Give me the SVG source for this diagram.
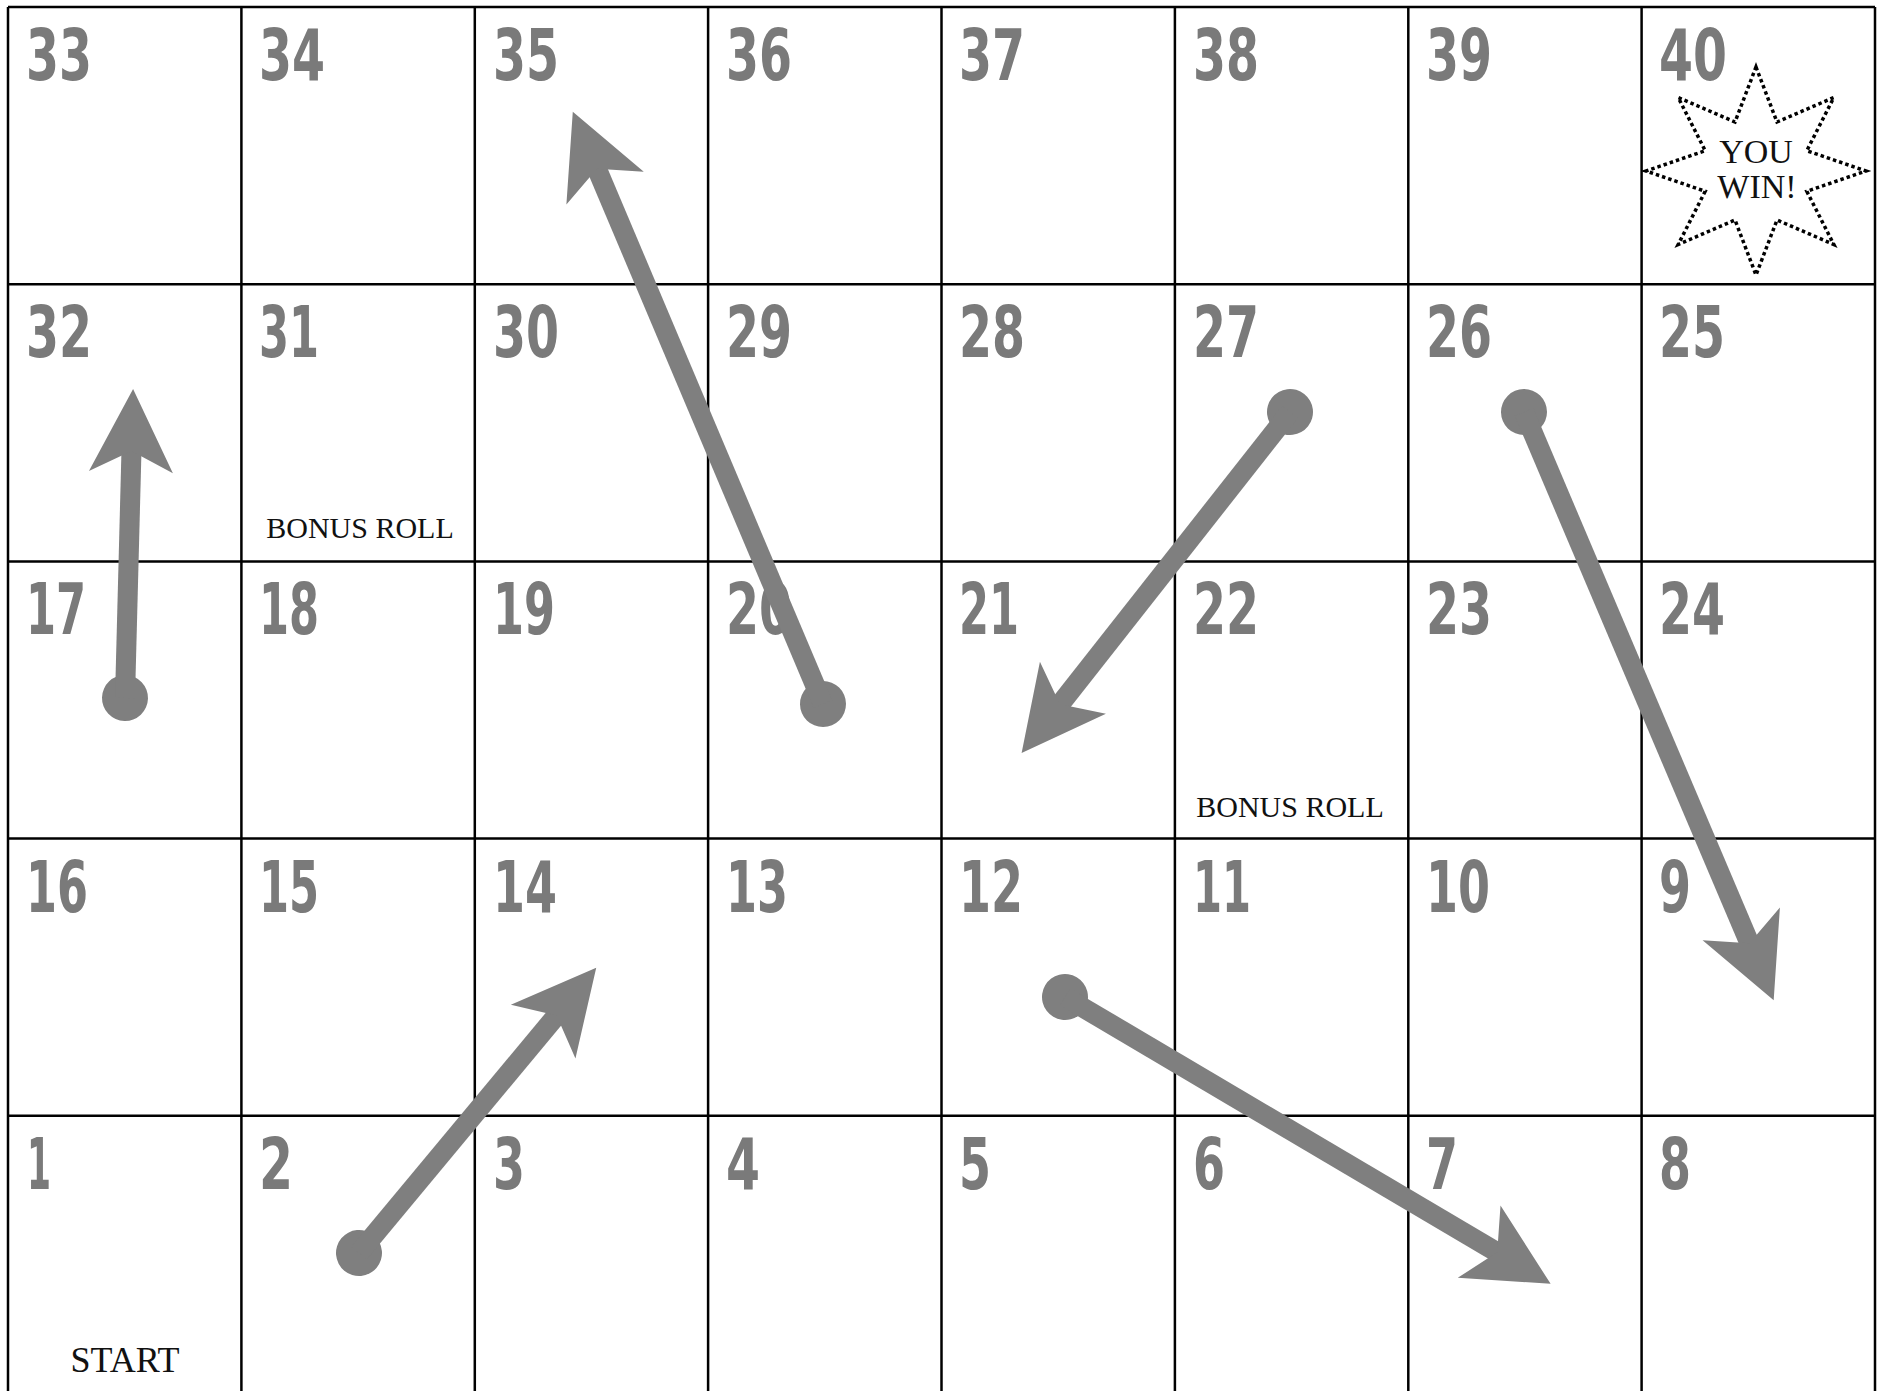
<svg xmlns="http://www.w3.org/2000/svg" xmlns:xlink="http://www.w3.org/1999/xlink" width="1883" height="1391" viewBox="0 0 1883 1391">
<style>
.num{font-family:"DejaVu Sans Condensed","DejaVu Sans","Liberation Sans",sans-serif;font-weight:bold;font-size:72px;fill:#7a7a7a}
.lbl{font-family:"Liberation Serif","DejaVu Serif",serif;fill:#111}
.grid line{stroke:#000;stroke-width:2.5}
.arrow{fill:#7f7f7f;stroke:none}
.shaft{stroke:#7f7f7f;stroke-width:20}
.star{fill:none;stroke:#000;stroke-width:3.5;stroke-dasharray:3.5 3}
</style>
<defs>
<path id="head" d="M0,0 L-83,-42 L-62,0 L-83,42 Z"/>
</defs>
<rect width="1883" height="1391" fill="#fff"/>
<g class="grid" id="grid">
<line x1="8" y1="7" x2="1875" y2="7"/>
<line x1="8" y1="284.2" x2="1875" y2="284.2"/>
<line x1="8" y1="561.4" x2="1875" y2="561.4"/>
<line x1="8" y1="838.6" x2="1875" y2="838.6"/>
<line x1="8" y1="1115.8" x2="1875" y2="1115.8"/>
<line x1="8" y1="7" x2="8" y2="1391"/>
<line x1="241.4" y1="7" x2="241.4" y2="1391"/>
<line x1="474.8" y1="7" x2="474.8" y2="1391"/>
<line x1="708.1" y1="7" x2="708.1" y2="1391"/>
<line x1="941.5" y1="7" x2="941.5" y2="1391"/>
<line x1="1174.9" y1="7" x2="1174.9" y2="1391"/>
<line x1="1408.3" y1="7" x2="1408.3" y2="1391"/>
<line x1="1641.6" y1="7" x2="1641.6" y2="1391"/>
<line x1="1875" y1="7" x2="1875" y2="1391"/>
</g>
<g id="row1">
<g id="c33"><text class="num" x="26" y="80" textLength="66" lengthAdjust="spacingAndGlyphs">33</text></g>
<g id="c34"><text class="num" x="259" y="80" textLength="66" lengthAdjust="spacingAndGlyphs">34</text></g>
<g id="c35"><text class="num" x="493" y="80" textLength="66" lengthAdjust="spacingAndGlyphs">35</text></g>
<g id="c36"><text class="num" x="726" y="80" textLength="66" lengthAdjust="spacingAndGlyphs">36</text></g>
<g id="c37"><text class="num" x="959" y="80" textLength="66" lengthAdjust="spacingAndGlyphs">37</text></g>
<g id="c38"><text class="num" x="1193" y="80" textLength="66" lengthAdjust="spacingAndGlyphs">38</text></g>
<g id="c39"><text class="num" x="1426" y="80" textLength="66" lengthAdjust="spacingAndGlyphs">39</text></g>
<g id="c40"><text class="num" x="1659" y="80" textLength="68" lengthAdjust="spacingAndGlyphs">40</text>
<polygon class="star" points="1756,67 1777,122 1833.8,97.5 1806.8,150.7 1866,171 1806.8,191.3 1833.8,244.5 1777,220 1756,275 1735,220 1678.2,244.5 1705.2,191.3 1646,171 1705.2,150.7 1678.2,97.5 1735,122"/>
<text class="lbl" x="1756" y="163" font-size="34" text-anchor="middle">YOU</text>
<text class="lbl" x="1757" y="198" font-size="34" text-anchor="middle">WIN!</text>
</g>
</g>
<g id="row2">
<g id="c32"><text class="num" x="26" y="357" textLength="66" lengthAdjust="spacingAndGlyphs">32</text></g>
<g id="c31"><text class="num" x="259" y="357" textLength="60" lengthAdjust="spacingAndGlyphs">31</text>
<text class="lbl" x="360" y="538" font-size="30" text-anchor="middle">BONUS ROLL</text></g>
<g id="c30"><text class="num" x="493" y="357" textLength="66" lengthAdjust="spacingAndGlyphs">30</text></g>
<g id="c29"><text class="num" x="726" y="357" textLength="66" lengthAdjust="spacingAndGlyphs">29</text></g>
<g id="c28"><text class="num" x="959" y="357" textLength="66" lengthAdjust="spacingAndGlyphs">28</text></g>
<g id="c27"><text class="num" x="1193" y="357" textLength="66" lengthAdjust="spacingAndGlyphs">27</text></g>
<g id="c26"><text class="num" x="1426" y="357" textLength="66" lengthAdjust="spacingAndGlyphs">26</text></g>
<g id="c25"><text class="num" x="1659" y="357" textLength="66" lengthAdjust="spacingAndGlyphs">25</text></g>
</g>
<g id="row3">
<g id="c17"><text class="num" x="26" y="634" textLength="60" lengthAdjust="spacingAndGlyphs">17</text></g>
<g id="c18"><text class="num" x="259" y="634" textLength="60" lengthAdjust="spacingAndGlyphs">18</text></g>
<g id="c19"><text class="num" x="493" y="634" textLength="62" lengthAdjust="spacingAndGlyphs">19</text></g>
<g id="c20"><text class="num" x="726" y="634" textLength="66" lengthAdjust="spacingAndGlyphs">20</text></g>
<g id="c21"><text class="num" x="959" y="634" textLength="60" lengthAdjust="spacingAndGlyphs">21</text></g>
<g id="c22"><text class="num" x="1193" y="634" textLength="66" lengthAdjust="spacingAndGlyphs">22</text>
<text class="lbl" x="1290" y="817" font-size="30" text-anchor="middle">BONUS ROLL</text></g>
<g id="c23"><text class="num" x="1426" y="634" textLength="66" lengthAdjust="spacingAndGlyphs">23</text></g>
<g id="c24"><text class="num" x="1659" y="634" textLength="66" lengthAdjust="spacingAndGlyphs">24</text></g>
</g>
<g id="row4">
<g id="c16"><text class="num" x="26" y="912" textLength="62" lengthAdjust="spacingAndGlyphs">16</text></g>
<g id="c15"><text class="num" x="259" y="912" textLength="60" lengthAdjust="spacingAndGlyphs">15</text></g>
<g id="c14"><text class="num" x="493" y="912" textLength="64" lengthAdjust="spacingAndGlyphs">14</text></g>
<g id="c13"><text class="num" x="726" y="912" textLength="62" lengthAdjust="spacingAndGlyphs">13</text></g>
<g id="c12"><text class="num" x="959" y="912" textLength="64" lengthAdjust="spacingAndGlyphs">12</text></g>
<g id="c11"><text class="num" x="1193" y="912" textLength="58" lengthAdjust="spacingAndGlyphs">11</text></g>
<g id="c10"><text class="num" x="1426" y="912" textLength="64" lengthAdjust="spacingAndGlyphs">10</text></g>
<g id="c9"><text class="num" x="1659" y="912" textLength="32" lengthAdjust="spacingAndGlyphs">9</text></g>
</g>
<g id="row5">
<g id="c1"><text class="num" x="27" y="1189" textLength="24" lengthAdjust="spacingAndGlyphs">1</text>
<text class="lbl" x="125" y="1372" font-size="36" text-anchor="middle">START</text></g>
<g id="c2"><text class="num" x="259" y="1189" textLength="34" lengthAdjust="spacingAndGlyphs">2</text></g>
<g id="c3"><text class="num" x="493" y="1189" textLength="32" lengthAdjust="spacingAndGlyphs">3</text></g>
<g id="c4"><text class="num" x="726" y="1189" textLength="34" lengthAdjust="spacingAndGlyphs">4</text></g>
<g id="c5"><text class="num" x="959" y="1189" textLength="32" lengthAdjust="spacingAndGlyphs">5</text></g>
<g id="c6"><text class="num" x="1193" y="1189" textLength="32" lengthAdjust="spacingAndGlyphs">6</text></g>
<g id="c7"><text class="num" x="1426" y="1189" textLength="32" lengthAdjust="spacingAndGlyphs">7</text></g>
<g id="c8"><text class="num" x="1659" y="1189" textLength="32" lengthAdjust="spacingAndGlyphs">8</text></g>
</g>
<g id="connectors">
<g class="arrow" transform="translate(125,698) rotate(-88.5)"><circle r="23"/><line class="shaft" x1="0" y1="0" x2="250" y2="0"/><use xlink:href="#head" href="#head" x="309" y="0"/></g>
<g class="arrow" transform="translate(823,704) rotate(-112.9)"><circle r="23"/><line class="shaft" x1="0" y1="0" x2="584" y2="0"/><use xlink:href="#head" href="#head" x="643" y="0"/></g>
<g class="arrow" transform="translate(1290,412) rotate(128.2)"><circle r="23"/><line class="shaft" x1="0" y1="0" x2="375" y2="0"/><use xlink:href="#head" href="#head" x="434" y="0"/></g>
<g class="arrow" transform="translate(1524,412) rotate(67)"><circle r="23"/><line class="shaft" x1="0" y1="0" x2="580" y2="0"/><use xlink:href="#head" href="#head" x="639" y="0"/></g>
<g class="arrow" transform="translate(359,1253) rotate(-50.25)"><circle r="23"/><line class="shaft" x1="0" y1="0" x2="312" y2="0"/><use xlink:href="#head" href="#head" x="371" y="0"/></g>
<g class="arrow" transform="translate(1065,997) rotate(30.57)"><circle r="23"/><line class="shaft" x1="0" y1="0" x2="505" y2="0"/><use xlink:href="#head" href="#head" x="564" y="0"/></g>
</g>
</svg>
